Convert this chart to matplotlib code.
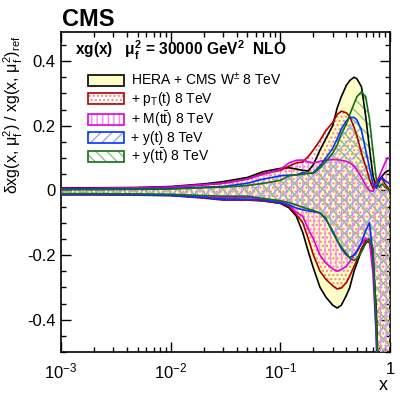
import numpy as np
import matplotlib
matplotlib.use("Agg")
import matplotlib.pyplot as plt
import matplotlib.patches as mpatches
from matplotlib.ticker import FixedLocator, FuncFormatter, NullFormatter
from matplotlib.legend_handler import HandlerTuple

plt.rcParams['font.family'] = ['Liberation Sans', 'DejaVu Sans']
plt.rcParams['mathtext.fontset'] = 'custom'
plt.rcParams['mathtext.rm'] = 'Liberation Sans'
plt.rcParams['mathtext.it'] = 'Liberation Sans:italic'
plt.rcParams['mathtext.bf'] = 'Liberation Sans:bold'
plt.rcParams['hatch.linewidth'] = 1.0

# ---------------- data ----------------
x = [0.001, 0.002, 0.005, 0.01, 0.02, 0.03, 0.05, 0.07, 0.1, 0.12, 0.14, 0.16, 0.18, 0.2,
     0.23, 0.26, 0.3, 0.33, 0.36, 0.4, 0.43, 0.47, 0.5, 0.55, 0.6, 0.65, 0.7, 0.75, 0.8,
     0.85, 0.9, 0.95, 1.0]

hera_up = [0.008, 0.008, 0.009, 0.012, 0.02, 0.027, 0.04, 0.058, 0.068, 0.07, 0.066, 0.062, 0.06, 0.08,
           0.125, 0.16, 0.2, 0.255, 0.29, 0.325, 0.34, 0.35, 0.345, 0.32, 0.23, 0.13, 0.045, 0.008, 0.03,
           0.045, 0.055, 0.06, 0.063]
hera_lo = [-0.012, -0.012, -0.013, -0.015, -0.022, -0.027, -0.028, -0.032, -0.04, -0.054, -0.08, -0.13, -0.19, -0.24,
           -0.30, -0.33, -0.355, -0.364, -0.355, -0.325, -0.30, -0.25, -0.225, -0.185, -0.16, -0.16, -0.22, -0.37, -0.7,
           -0.8, -0.8, -0.8, -0.8]

pt_up = [0.006, 0.006, 0.008, 0.01, 0.017, 0.022, 0.035, 0.052, 0.062, 0.075, 0.085, 0.088, 0.105, 0.125,
         0.155, 0.185, 0.21, 0.235, 0.245, 0.24, 0.228, 0.195, 0.168, 0.115, 0.075, 0.035, 0.006, 0.03, 0.04,
         0.035, 0.02, 0.01, 0.0]
pt_lo = [-0.014, -0.014, -0.015, -0.016, -0.024, -0.03, -0.03, -0.033, -0.04, -0.05, -0.075, -0.1, -0.15, -0.2,
         -0.25, -0.275, -0.295, -0.305, -0.302, -0.285, -0.265, -0.235, -0.215, -0.18, -0.155, -0.15, -0.2, -0.4, -0.75,
         -0.8, -0.8, -0.8, -0.8]

mtt_up = [0.006, 0.006, 0.008, 0.01, 0.018, 0.022, 0.035, 0.05, 0.065, 0.085, 0.093, 0.094, 0.088, 0.085,
          0.09, 0.094, 0.095, 0.095, 0.093, 0.09, 0.085, 0.075, 0.063, 0.04, 0.016, 0.0, -0.003, 0.02, 0.045,
          0.065, 0.085, 0.1, 0.1]
mtt_lo = [-0.012, -0.012, -0.013, -0.015, -0.02, -0.022, -0.022, -0.028, -0.035, -0.045, -0.068, -0.08, -0.12, -0.15,
          -0.2, -0.225, -0.243, -0.25, -0.245, -0.235, -0.22, -0.2, -0.185, -0.165, -0.148, -0.155, -0.26, -0.45, -0.8,
          -0.8, -0.8, -0.8, -0.8]

yt_up = [0.004, 0.004, 0.005, 0.006, 0.01, 0.012, 0.022, 0.035, 0.045, 0.047, 0.048, 0.055, 0.052, 0.055,
         0.076, 0.1, 0.13, 0.16, 0.19, 0.215, 0.225, 0.226, 0.218, 0.185, 0.125, 0.07, 0.02, 0.008, 0.035,
         0.04, 0.03, 0.025, 0.02]
yt_lo = [-0.013, -0.013, -0.014, -0.016, -0.022, -0.028, -0.028, -0.03, -0.038, -0.045, -0.055, -0.06, -0.063, -0.066,
         -0.07, -0.09, -0.125, -0.155, -0.18, -0.2, -0.207, -0.2, -0.19, -0.16, -0.125, -0.1, -0.2, -0.45, -0.8,
         -0.8, -0.8, -0.8, -0.8]

ytt_up = [0.002, 0.002, 0.003, 0.004, 0.008, 0.01, 0.015, 0.022, 0.031, 0.045, 0.048, 0.05, 0.053, 0.053,
          0.07, 0.09, 0.115, 0.14, 0.175, 0.205, 0.235, 0.268, 0.29, 0.305, 0.29, 0.22, 0.12, 0.035, 0.01,
          0.02, 0.01, 0.005, 0.0]
ytt_lo = [-0.01, -0.01, -0.011, -0.012, -0.016, -0.018, -0.018, -0.025, -0.032, -0.038, -0.045, -0.052, -0.058, -0.062,
          -0.07, -0.085, -0.13, -0.155, -0.175, -0.195, -0.21, -0.217, -0.21, -0.19, -0.165, -0.15, -0.18, -0.42, -0.75,
          -0.8, -0.8, -0.8, -0.8]

labels = ["HERA + CMS W$^{\\pm}$ 8 TeV", "+ p$_{\\mathrm{T}}$(t) 8 TeV", "+ M(t$\\bar{\\mathrm{t}}$) 8 TeV",
          "+ y(t) 8 TeV", "+ y(t$\\bar{\\mathrm{t}}$) 8 TeV"]
xtick_vals = [1e-3, 1e-2, 1e-1, 1]
xtick_labels = ["$10^{-3}$", "$10^{-2}$", "$10^{-1}$", "1"]
ytick_vals = [-0.4, -0.2, 0, 0.2, 0.4]

# --------------- styles ---------------
bands = [
    (hera_up, hera_lo, 'black', '#ffffc8', None, None),
    (pt_up, pt_lo, '#b00000', 'none', '....', '#ff8080'),
    (mtt_up, mtt_lo, '#e000e0', 'none', '|||', '#ff88ff'),
    (yt_up, yt_lo, '#0033ff', 'none', '///', '#9aa8ff'),
    (ytt_up, ytt_lo, '#107010', 'none', '\\\\\\', '#88c488'),
]

fig = plt.figure(figsize=(4.11, 3.96), dpi=100)
ax = fig.add_axes([61/411, 1-352/396, 329/411, 320/396])
ax.set_xscale('log')

handles = []
for i, (up, lo, lc, fc, hatch, hc) in enumerate(bands):
    if hatch is None:
        ax.fill_between(x, lo, up, facecolor=fc, edgecolor='none', lw=0, zorder=1)
        h = mpatches.Patch(facecolor=fc, edgecolor=lc, lw=1.2)
    else:
        ax.fill_between(x, lo, up, facecolor='none', edgecolor=hc, hatch=hatch, lw=0, zorder=2 + i)
        h = (mpatches.Patch(facecolor='white', edgecolor=hc, hatch=hatch, lw=0),
             mpatches.Patch(facecolor='none', edgecolor=lc, lw=1.2))
    handles.append(h)

for i, (up, lo, lc, fc, hatch, hc) in enumerate(bands):
    ax.plot(x, up, color=lc, lw=1.2, zorder=10 + i)
    ax.plot(x, lo, color=lc, lw=1.2, zorder=10 + i)

ax.set_xlim(1e-3, 1)
ax.set_ylim(-0.5, 0.49)

ax.xaxis.set_major_locator(FixedLocator(xtick_vals))
ax.set_xticklabels(xtick_labels)
ax.xaxis.set_minor_locator(matplotlib.ticker.LogLocator(base=10, subs=np.arange(2, 10)))
ax.xaxis.set_minor_formatter(NullFormatter())
ax.yaxis.set_major_locator(FixedLocator(ytick_vals))
ax.yaxis.set_major_formatter(FuncFormatter(lambda v, p: f"{round(v, 2):g}"))
ax.yaxis.set_minor_locator(matplotlib.ticker.MultipleLocator(0.05))

ax.tick_params(which='both', direction='in', top=True, right=True, width=1.0)
ax.tick_params(which='major', length=7.5)
ax.tick_params(which='minor', length=3.8)
ax.tick_params(axis='x', which='major', labelsize=12, pad=7)
ax.tick_params(axis='y', which='major', labelsize=12, pad=4)
for s in ax.spines.values():
    s.set_linewidth(1.2)

ax.set_ylabel("δxg(x, μ$_{\\mathrm{f}}^{2}$) / xg(x, μ$_{\\mathrm{f}}^{2}$)$_{\\mathrm{ref}}$", fontsize=11.5,
              ha='right', y=1.0)
ax.yaxis.set_label_coords(-0.11, 0.99)
fig.text(383/411, 1-390/396, "x", ha='center', va='baseline', fontsize=13)

fig.text(62/411, 1-26.5/396, "CMS", fontsize=17, fontweight='bold', ha='left', va='baseline')
ax.text((75-61)/329, 1-(55-32)/320,
        r"xg(x)   μ$_{\mathbf{f}}^{\mathbf{2}}$ = 30000 GeV$^{\mathbf{2}}$  NLO",
        transform=ax.transAxes, fontsize=11.2, fontweight='bold', ha='left', va='baseline')

leg = ax.legend(handles, labels, loc='upper left', bbox_to_anchor=((88-61)/329, 1-(71-32)/320),
                frameon=False, fontsize=10, handlelength=2.6, handleheight=0.85,
                handletextpad=0.5, labelspacing=0.12, borderpad=0, borderaxespad=0,
                handler_map={tuple: HandlerTuple(ndivide=1, pad=0)})

fig.savefig("out.png", dpi=100)
